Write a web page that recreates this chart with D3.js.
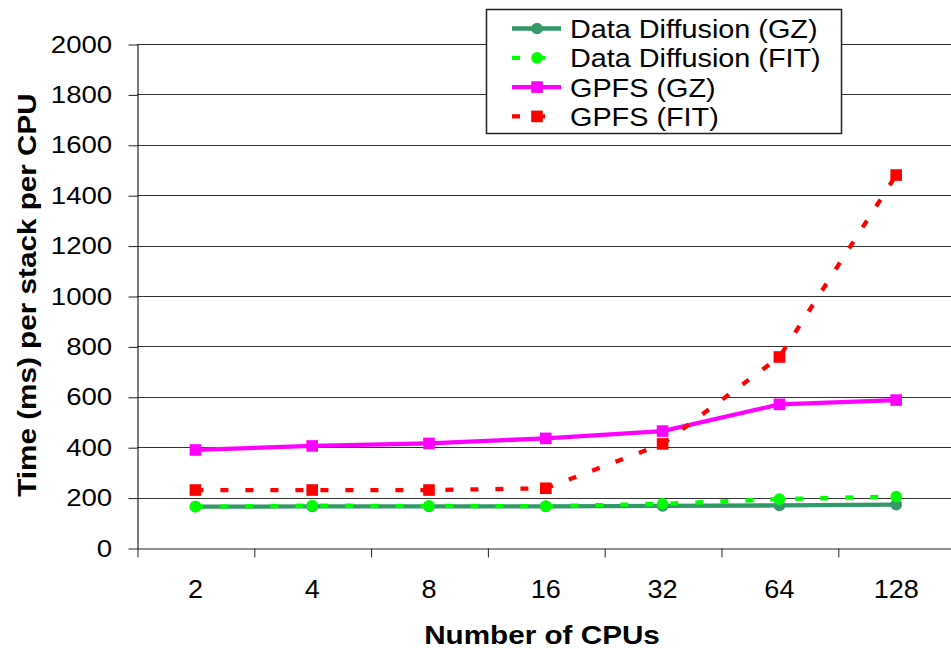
<!DOCTYPE html>
<html>
  <head>
    <meta charset="utf-8">
    <title>data diffusion vs gpfs</title>
    <script src="https://d3js.org/d3.v7.min.js"></script>
  </head>
  <style>
    body { margin: 0; background: #fff; }
    svg, svg text { font-family: "Liberation Sans", Arial, sans-serif; }
    svg { display: block; }
    .grid-line { stroke: #333; stroke-width: 1.1px; }
  </style>
  <body>
    <script>
      const width = 951;
      const height = 649;
      const plotLeft = 137, plotTop = 44, plotBottom = 548;
      const bandStep = 116.8;

      // values
      const cpus = ["2", "4", "8", "16", "32", "64", "128"];
      const ddGZ = [164, 165, 165, 165, 167, 169, 172];
      const ddFIT = [164, 168, 167, 166, 175, 194, 204];
      const gpfsGZ = [389, 405, 415, 435, 464, 570, 587];
      const gpfsFIT = [230, 230, 230, 237, 413, 758, 1480];
      const yTicks = [0, 200, 400, 600, 800, 1000, 1200, 1400, 1600, 1800, 2000];

      const series = [
        {name: "Data Diffusion (GZ)", values: ddGZ, color: "#339966", dash: null, marker: "circle"},
        {name: "Data Diffusion (FIT)", values: ddFIT, color: "#00ff00", dash: "8,17", marker: "circle"},
        {name: "GPFS (GZ)", values: gpfsGZ, color: "#ff00ff", dash: null, marker: "square"},
        {name: "GPFS (FIT)", values: gpfsFIT, color: "#ff0000", dash: "8,17", marker: "square"}
      ];

      const plotRight = plotLeft + bandStep * cpus.length;

      const xScale = d3.scaleBand()
        .domain(cpus)
        .range([plotLeft, plotRight]);

      const xEdge = d3.scaleLinear()
        .domain([0, cpus.length])
        .range([plotLeft, plotRight]);

      const yScale = d3.scaleLinear()
        .domain([0, 2000])
        .range([plotBottom, plotTop]);

      const svg = d3.select("body")
        .append("svg")
          .attr("width", width)
          .attr("height", height);

      // grid
      svg.append("g")
        .selectAll("line")
        .data(yTicks.filter(function(d) { return d > 0; }))
        .enter()
        .append("line")
          .classed("grid-line", true)
          .attr("x1", plotLeft)
          .attr("x2", width)
          .attr("y1", function(d) { return Math.round(yScale(d)) + 0.5; })
          .attr("y2", function(d) { return Math.round(yScale(d)) + 0.5; });

      // y axis
      const yAxis = d3.axisLeft(yScale)
        .tickValues(yTicks)
        .tickFormat(d3.format("d"))
        .tickSizeInner(9)
        .tickSizeOuter(0);

      const yg = svg.append("g")
        .attr("transform", "translate(" + (plotLeft + 0.5) + ",0.5)")
        .call(yAxis)
        .attr("font-family", null);
      yg.select(".domain").attr("stroke", "#222").attr("stroke-width", 1.2);
      yg.selectAll(".tick line").attr("stroke", "#222");
      yg.selectAll(".tick text")
        .attr("x", -22)
        .attr("transform", "scale(1.15,1)")
        .attr("fill", "#000")
        .style("font-size", "24px");

      // x axis: labels in band centres, ticks on band edges
      const xg = svg.append("g")
        .attr("transform", "translate(0," + (plotBottom + 0.5) + ")")
        .call(d3.axisBottom(xScale).tickSize(0))
        .attr("font-family", null);
      xg.select(".domain").attr("stroke", "#222").attr("stroke-width", 1.2);
      xg.selectAll(".tick text")
        .attr("y", 31.5)
        .attr("transform", "scale(1.04,1)")
        .attr("fill", "#000")
        .style("font-size", "26px");

      const xe = svg.append("g")
        .attr("transform", "translate(0.5," + (plotBottom + 0.5) + ")")
        .call(d3.axisBottom(xEdge).tickValues(d3.range(cpus.length + 1)).tickFormat("").tickSize(9).tickSizeOuter(0));
      xe.select(".domain").remove();
      xe.selectAll(".tick line").attr("stroke", "#222");

      // axis titles
      svg.append("text")
        .attr("transform", "translate(542,644) scale(1.12,1)")
        .attr("text-anchor", "middle")
        .style("font-size", "26.5px")
        .style("font-weight", "bold")
        .text("Number of CPUs");

      svg.append("text")
        .attr("transform", "translate(36,295) rotate(-90) scale(1.12,1)")
        .attr("text-anchor", "middle")
        .style("font-size", "26.5px")
        .style("font-weight", "bold")
        .text("Time (ms) per stack per CPU");

      // lines and markers
      const cx = function(i) { return xScale(cpus[i]) + xScale.bandwidth() / 2; };

      const line = d3.line()
        .x(function(d, i) { return cx(i); })
        .y(function(d) { return yScale(d); });

      function drawMarker(g, type, x, y, color) {
        if (type === "circle") {
          g.append("circle")
            .attr("cx", x).attr("cy", y).attr("r", 5.8)
            .attr("fill", color);
        } else {
          g.append("rect")
            .attr("x", x - 5.8).attr("y", y - 5.8)
            .attr("width", 11.6).attr("height", 11.6)
            .attr("fill", color);
        }
      }

      series.forEach(function(s) {
        const g = svg.append("g");
        g.append("path")
          .datum(s.values)
          .attr("d", line)
          .attr("fill", "none")
          .attr("stroke", s.color)
          .attr("stroke-width", 4.3)
          .attr("stroke-dasharray", s.dash);
        s.values.forEach(function(v, i) {
          drawMarker(g, s.marker, cx(i), yScale(v), s.color);
        });
      });

      // legend
      const legend = svg.append("g");
      legend.append("rect")
        .attr("x", 486.5).attr("y", 9.5)
        .attr("width", 355).attr("height", 124)
        .attr("fill", "#fff")
        .attr("stroke", "#222")
        .attr("stroke-width", 1.5);

      series.forEach(function(s, i) {
        const base = 38 + i * 29.3;
        const ly = base - 9.5;
        const row = legend.append("g");
        row.append("line")
          .attr("x1", 512).attr("x2", 561)
          .attr("y1", ly).attr("y2", ly)
          .attr("stroke", s.color)
          .attr("stroke-width", 4.3)
          .attr("stroke-dasharray", s.dash);
        drawMarker(row, s.marker, 537, ly, s.color);
        row.append("text")
          .attr("transform", "translate(570," + base + ") scale(1.13,1)")
          .style("font-size", "25.5px")
          .text(s.name);
      });
    </script>
  </body>
</html>
